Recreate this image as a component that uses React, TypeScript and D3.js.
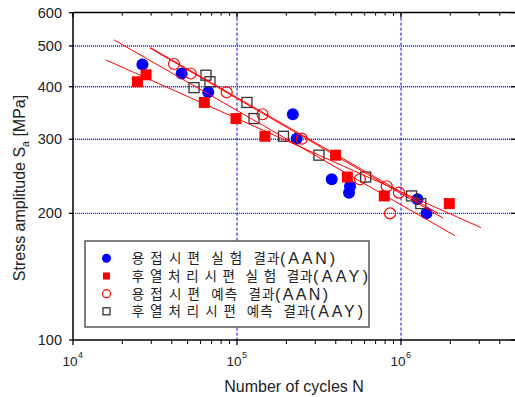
import React from "react";
import * as d3 from "d3";

// AAN experiment (blue filled circles)
const aanExpN = [2.65e4, 4.6e4, 6.68e4, 2.19e5, 2.31e5, 3.78e5, 4.89e5, 4.82e5, 1.26e6, 1.43e6];
const aanExpS = [452, 430, 388, 344, 301, 241, 232, 224, 216, 200];
// AAY experiment (red filled squares)
const aayExpN = [2.47e4, 2.79e4, 6.32e4, 9.86e4, 1.48e5, 3.99e5, 4.71e5, 7.91e5, 1.97e6];
const aayExpS = [411, 427, 367, 336, 305, 275, 244, 220, 211];
// AAN prediction (red open circles)
const aanPredN = [4.13e4, 5.22e4, 8.65e4, 1.43e5, 2.48e5, 5.62e5, 8.18e5, 9.72e5, 8.57e5];
const aanPredS = [453, 430, 388, 344, 301, 241, 232, 224, 200];
// AAY prediction (black open squares)
const aayPredN = [5.47e4, 6.47e4, 6.84e4, 1.15e5, 1.27e5, 1.92e5, 3.16e5, 6.09e5, 1.16e6, 1.32e6];
const aayPredS = [398, 426, 411, 367, 336, 305, 275, 244, 220, 211];

// Fit lines: [N start, S start, N end, S end]
const fitAayExp = [1.59e4, 463, 3.07e6, 185];
const fitAanExp = [1.78e4, 517, 2.13e6, 177];
const fitAanPred = [2.95e4, 494, 1.8e6, 195];
const fitAayPred = [2.95e4, 496, 1.68e6, 200];

const yTicks = [100, 200, 300, 400, 500, 600];
const yGrid = [200, 300, 400, 500];
const xMajor = [1e4, 1e5, 1e6];
const xGrid = [1e5, 1e6];
const xExp = ["4", "5", "6"];

const legendKorean = ["용 접 시 편  실 험  결과", "후 열 처 리 시 편  실 험  결과", "용 접 시 편  예측  결과", "후 열 처 리 시 편  예측  결과"];
const legendCode = ["(AAN)", "(AAY)", "(AAN)", "(AAY)"];

const FONT = "'Liberation Sans', Arial, 'Noto Sans CJK KR', sans-serif";

export default function App() {
  const W = 515, H = 397;
  const left = 73, right = 515, top = 12.6, bottom = 340;
  const x = d3.scaleLog().domain([1e4, 1e7]).range([left, left + 164 * 3]);
  const y = d3.scaleLog().domain([100, 1000]).range([bottom, bottom - 420.7]);

  const minorX: number[] = [];
  for (let e = 4; e <= 6; e++) {
    for (let m = 2; m <= 9; m++) {
      const v = m * Math.pow(10, e);
      if (x(v) <= right) minorX.push(v);
    }
  }

  const pts = (ns: number[], ss: number[]) => ns.map((n, i) => [x(n), y(ss[i])]);
  const fits = [fitAayExp, fitAanExp, fitAanPred, fitAayPred];
  const lineGen = d3.line<number[]>().x((d) => d[0]).y((d) => d[1]);

  const textColor = "#222";
  const blue = "#0000ff";
  const red = "#ff0000";

  const legX = 85, legY = 241, legW = 284, legH = 86;
  const rowY = [258.3, 276, 293.7, 311.3];
  const textStart = 131.7;
  const codeStart = [280, 313, 275, 310];
  const codeEnd = [335, 368, 328, 363];

  return (
    <svg width={W} height={H} style={{ position: "absolute", left: 0, top: 0, background: "#fff" }} fontFamily={FONT}>
      <defs>
        <clipPath id="plot">
          <rect x={left} y={top} width={right - left} height={bottom - top} />
        </clipPath>
      </defs>
      <rect x={0} y={0} width={W} height={H} fill="#fff" />
      {/* grid */}
      {yGrid.map((v) => (
        <line key={"gy" + v} x1={left} x2={right} y1={y(v)} y2={y(v)} stroke="#2a2aff" strokeWidth={1.4} strokeDasharray="1.2,0.8" />
      ))}
      {xGrid.map((v) => (
        <line key={"gx" + v} x1={x(v)} x2={x(v)} y1={top} y2={bottom} stroke="#0000ee" strokeWidth={1} strokeDasharray="3,2" />
      ))}
      {/* axes */}
      <line x1={left} x2={right} y1={top} y2={top} stroke="#000" strokeWidth={1.5} />
      <line x1={left} x2={right} y1={bottom} y2={bottom} stroke="#000" strokeWidth={1.5} />
      <line x1={left} x2={left} y1={top} y2={bottom} stroke="#000" strokeWidth={1.5} />
      {minorX.map((v) => (
        <g key={"mx" + v}>
          <line x1={x(v)} x2={x(v)} y1={bottom} y2={bottom + 4} stroke="#000" strokeWidth={1} />
          <line x1={x(v)} x2={x(v)} y1={top} y2={top + 3} stroke="#000" strokeWidth={1} />
        </g>
      ))}
      {xMajor.map((v, i) => (
        <g key={"Mx" + v}>
          <line x1={x(v)} x2={x(v)} y1={bottom} y2={bottom + 5} stroke="#000" strokeWidth={1.3} />
          <line x1={x(v)} x2={x(v)} y1={top} y2={top + 5} stroke="#000" strokeWidth={1.3} />
          <text x={x(v) - 3} y={366} textAnchor="middle" fontSize={13.5} fill={textColor}>
            10
          </text>
          <text x={x(v) + 7.5} y={358} textAnchor="middle" fontSize={9} fill={textColor}>
            {xExp[i]}
          </text>
        </g>
      ))}
      {yTicks.map((v) => (
        <g key={"ty" + v}>
          <line x1={left - 4} x2={left} y1={y(v)} y2={y(v)} stroke="#000" strokeWidth={1.3} />
          <line x1={right - 4} x2={right} y1={y(v)} y2={y(v)} stroke="#000" strokeWidth={1.3} />
          <text x={62} y={y(v)} dy="0.35em" textAnchor="end" fontSize={14.5} fill={textColor}>
            {v}
          </text>
        </g>
      ))}
      {/* data */}
      <g clipPath="url(#plot)">
        {pts(aanExpN, aanExpS).map((p, i) => (
          <circle key={"b" + i} cx={p[0]} cy={p[1]} r={6} fill={blue} />
        ))}
        {pts(aayExpN, aayExpS).map((p, i) => (
          <rect key={"r" + i} x={p[0] - 5.5} y={p[1] - 5.5} width={11} height={11} fill={red} />
        ))}
        {pts(aanPredN, aanPredS).map((p, i) => (
          <circle key={"c" + i} cx={p[0]} cy={p[1]} r={5.5} fill="none" stroke={red} strokeWidth={1.2} />
        ))}
        {pts(aayPredN, aayPredS).map((p, i) => (
          <rect key={"s" + i} x={p[0] - 5} y={p[1] - 5} width={10} height={10} fill="none" stroke="#333" strokeWidth={1.3} />
        ))}
        {fits.map((f, i) => (
          <path
            key={"f" + i}
            d={lineGen([[x(f[0]), y(f[1])], [x(f[2]), y(f[3])]]) || ""}
            stroke={red}
            strokeWidth={1}
            fill="none"
          />
        ))}
      </g>
      {/* legend */}
      <rect x={legX} y={legY} width={legW} height={legH} fill="#fff" stroke="#555" strokeWidth={1.5} />
      <circle cx={106.5} cy={rowY[0]} r={4.5} fill={blue} />
      <rect x={106.5 - 3.5} y={rowY[1] - 3.5} width={7} height={7} fill={red} />
      <circle cx={106.5} cy={rowY[2]} r={4} fill="none" stroke={red} strokeWidth={1.2} />
      <rect x={106.5 - 3.5} y={rowY[3] - 3.5} width={7} height={7} fill="none" stroke="#222" strokeWidth={1.2} />
      {legendKorean.map((t, i) => (
        <g key={"lt" + i}>
          <text
            x={textStart}
            y={rowY[i]}
            dy="0.38em"
            fontSize={13.5}
            fill={textColor}
            xmlSpace="preserve"
            style={{ whiteSpace: "pre" }}
            textLength={codeStart[i] - textStart - 0.5}
            lengthAdjust="spacing"
          >
            {t}
          </text>
          <text
            x={codeStart[i]}
            y={rowY[i]}
            dy="0.38em"
            fontSize={16}
            fill={textColor}
            textLength={codeEnd[i] - codeStart[i]}
            lengthAdjust="spacing"
          >
            {legendCode[i]}
          </text>
        </g>
      ))}
      {/* titles */}
      <text x={294} y={392} textAnchor="middle" fontSize={16} fill={textColor}>
        Number of cycles N
      </text>
      <text transform="translate(25,188) rotate(-90)" textAnchor="middle" fontSize={16} fill={textColor}>
        Stress amplitude S
        <tspan fontSize={10.5} dy={4}>a</tspan>
        <tspan dy={-4}> [MPa]</tspan>
      </text>
    </svg>
  );
}
